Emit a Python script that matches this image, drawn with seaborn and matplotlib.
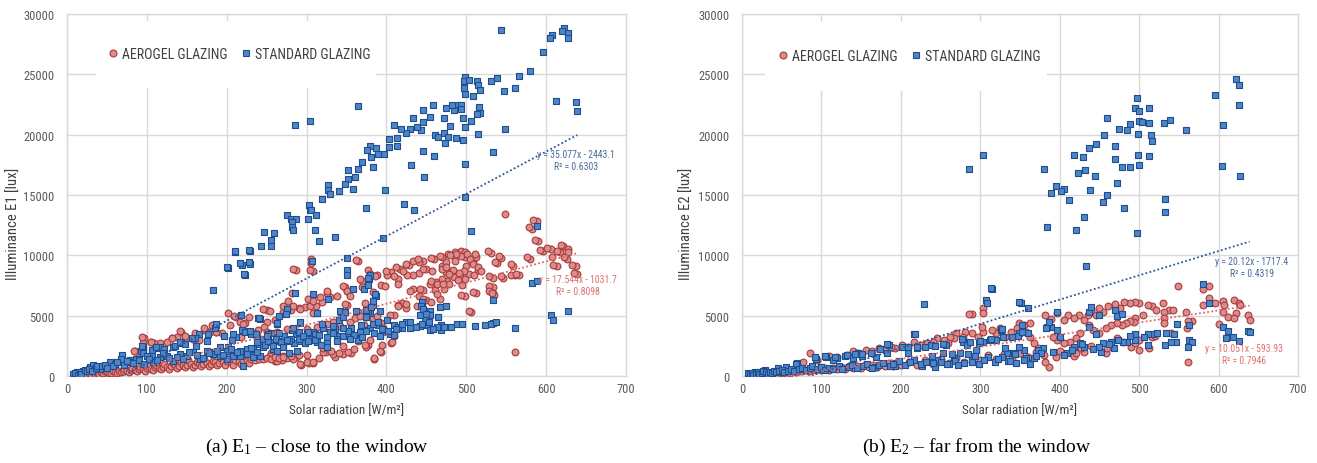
import numpy as np
import pandas as pd
import matplotlib
matplotlib.use("Agg")
import matplotlib.pyplot as plt
import seaborn as sns
from matplotlib.patches import Rectangle
from matplotlib.lines import Line2D

sns.set_theme(style="whitegrid")
plt.rcParams['font.family'] = ['Roboto Condensed', 'Roboto', 'DejaVu Sans']
plt.rcParams['mathtext.fontset'] = 'stix'

# ---------------- data: (solar radiation W/m2, illuminance lux) ----------------
aero_e1 = [
    (549,13450),(588,12850),(582,12210),(590,11190),(596,10370),(613,9100),(606,10560),(607,9870),(621,10750),
    (627,10560),(627,10280),(617,10280),(626,9730),(637,9130),(639,8440),(531,10200),(544,9820),(539,9370),
    (580,9730),(559,9130),(561,8350),(566,8350),(546,8160),(533,8160),(533,7390),(533,6890),(535,6700),(506,5320),
    (512,6840),(498,6620),(561,1950),(584,12960),(578,12310),(586,11300),(592,10440),(601,10580),(614,10330),
    (619,10860),(622,9830),(633,9220),(635,8540),(609,9200),(576,9830),(556,9280),(556,8400),(562,8450),(543,8250),
    (541,9970),(536,9470),(527,10330),(529,8250),(529,7470),(528,7070),(532,6840),(508,6920),(503,5410),(494,6710),
    (515,8810),(503,8450),(508,9410),(512,9830),(511,10110),(498,9830),(493,10330),(486,10250),(477,10110),
    (500,9140),(497,8720),(492,8310),(484,8230),(475,8590),(471,7620),(469,9140),(486,9560),(474,9470),(476,7890),
    (498,10280),(494,9930),(501,10140),(487,10140),(480,10010),(470,9870),(459,9730),(446,9510),(441,9460),
    (428,9180),(417,8900),(406,8630),(505,9730),(509,9320),(515,9040),(518,8710),(510,8350),(499,8080),(491,8550),
    (483,8820),(478,8440),(470,8080),(462,7800),(454,7660),(461,7110),(472,7250),(478,7660),(489,7940),(495,7530),
    (449,8900),(457,8710),(441,8550),(433,8350),(426,8350),(414,8080),(401,8350),(414,7660),(433,7250),(446,7110),
    (441,6620),(449,6290),(467,6340),(446,5320),(420,6010),(425,5600),(414,5870),(409,5040),(406,2700),(393,2010),
    (385,1380),(364,9540),(369,7890),(377,8770),(388,8350),(393,7530),(383,6980),(373,6010),(364,5320),(351,7060),
    (348,7390),(351,5870),(361,4770),(372,4220),(383,4770),(393,4410),(396,3940),(377,2560),(374,2430),(356,1870),
    (345,1820),(335,1600),(324,2010),(329,6560),(325,6890),(319,6150),(312,5790),(305,6010),(302,6420),(308,5180),
    (298,5730),(290,5600),(282,6840),(287,8770),(308,8710),(305,9370),(308,1050),(303,1100),(293,910),(287,1600),
    (276,1460),(269,1320),(260,1270),(255,1870),(276,5870),(281,5460),(271,5320),(260,4630),(250,4490),(250,5460),
    (247,4080),(239,3800),(234,3530),(223,4360),(218,3250),(212,4910),(204,4220),(202,5180),(194,3530),(186,3670),
    (181,4220),(173,3800),(165,2980),(160,3530),(149,3120),(143,3670),(138,3250),(132,3120),(125,2840),(117,2700),
    (109,2700),(105,2840),(96,3170),(95,2700),(85,2070),(90,1870),(237,1410),(254,1680),(263,1270),(271,1680),
    (283,1410),(292,990),(300,1180),(308,1130),(321,2010),(333,1820),(340,1870),(352,2010),(373,2570),(392,2100),
    (407,2840),(384,1460),(246,5550),(254,5410),(271,5830),(283,5830),(277,6240),(292,5550),(304,5830),(308,6240),
    (317,6510),(325,7070),(338,6600),(346,7480),(350,7070),(354,6650),(348,5960),(367,8040),(369,7340),(379,8450),
    (386,8310),(398,7480),(400,8720),(409,8310),(412,9000),(421,8720),(425,9280),(433,9560),(439,9700),(446,8870),
    (456,9820),(467,9970),(469,8870),(475,9000),(456,7890),(463,7620),(471,7620),(429,7070),(442,7210),(446,6380),
    (456,6100),(463,6790),(438,5830),(425,5960),(415,5830),(404,5050),(388,5000),(375,4850),(367,5000),(354,4440),
    (342,4170),(333,4440),(325,4310),(313,4030),(300,3890),(288,3610),(275,3890),(263,3610),(250,3610),(238,3340),
    (306,9700),(283,8870),(304,8810),(362,9610),(396,3610),(94,3260),(84,2100),(105,2840),(131,3170),(142,3700),
    (148,3340),(158,3070),(172,3950),(179,3610),(187,3670),(209,5000),(228,4890),(217,4440),(221,4310),(69,1410),
    (12,50),(15,120),(18,80),(22,150),(25,120),(28,230),(30,150),(33,300),(35,200),(38,280),(40,180),(43,350),
    (45,260),(48,400),(50,300),(52,220),(55,280),(58,450),(60,350),(62,250),(65,420),(68,330),(70,380),(72,550),
    (75,460),(78,320),(80,520),(82,650),(85,480),(88,380),(90,600),(92,750),(95,560),(98,430),(100,650),(102,850),
    (105,620),(108,480),(110,720),(112,900),(115,690),(118,550),(120,780),(122,1000),(125,740),(128,600),(130,820),
    (133,1100),(135,900),(138,680),(140,860),(143,1200),(145,950),(148,720),(150,880),(152,1300),(155,1000),
    (158,780),(160,940),(163,1150),(165,1050),(168,800),(170,980),(172,1400),(175,1100),(178,850),(180,1020),
    (183,1250),(185,1150),(188,900),(190,1080),(193,1500),(195,1200),(198,950),(200,1250),(203,1600),(205,1150),
    (208,900),(210,1300),(213,1700),(215,1220),(218,1000),(220,1350),(222,1800),(225,1280),(228,1050),(230,1400),
    (235,1320),(240,1450),(245,1380),(250,1500),(255,1420),(260,1550),(265,1480),(270,1600),(280,1650),(290,1700),
    (300,1750),(315,1500),(320,2300),(330,2100),(345,2500),(360,2200),(365,2900),(380,3000),(395,2600),(410,3300),
]

std_e1 = [
    (544,28670),(622,28840),(620,28560),(627,28450),(627,28010),(607,28230),(605,28010),(596,26820),(580,25300),
    (566,24900),(561,23870),(547,23600),(539,24700),(531,24480),(514,24480),(515,24150),(517,23710),(499,24760),
    (497,24430),(504,24540),(497,23870),(499,23380),(509,23240),(612,22830),(637,22690),(639,21920),(516,22330),
    (517,21780),(513,21730),(506,21170),(496,21390),(499,20620),(515,20070),(549,20480),(489,22500),(494,22500),
    (494,22110),(485,22080),(482,22500),(475,22170),(479,20680),(472,21370),(472,20130),(473,19300),(477,19800),
    (496,19520),(487,19740),(461,19960),(465,19800),(458,22500),(454,21500),(446,22060),(446,21010),(443,20350),
    (438,20620),(433,21390),(429,20510),(424,20130),(418,20480),(409,20840),(413,19740),(403,19660),(403,18970),
    (413,19050),(397,18360),(390,18360),(387,18910),(380,19020),(381,18140),(369,17730),(365,17180),(352,17040),
    (361,16490),(352,16320),(348,15940),(358,15490),(340,15300),(327,15860),(327,15380),(329,15110),(319,14700),
    (303,14200),(304,13790),(305,13730),(312,13320),(276,13320),(281,13040),(287,13040),(282,12770),(282,12350),
    (283,12080),(302,13040),(311,12080),(315,11190),(335,11520),(259,11880),(247,11940),(255,11250),(256,10780),
    (243,10780),(229,10340),(211,10280),(202,8960),(219,9240),(223,8350),(229,9320),(286,20760),(304,21120),
    (364,22390),(376,18690),(383,17310),(460,18200),(446,18610),(431,17480),(447,16490),(498,17590),(533,18560),
    (499,14830),(398,15380),(422,14230),(434,13730),(375,13950),(396,11470),(506,12020),(350,9820),(351,8770),
    (351,8380),(307,9540),(183,7110),(588,12460),(582,7720),(589,7860),(308,6780),(285,6840),(627,5400),(606,5070),
    (608,4630),(533,6290),(561,3940),(534,4410),(531,4300),(511,4160),(488,4300),(481,4080),(467,5730),(468,4220),
    (468,3800),(465,4850),(455,5400),(454,5040),(451,4220),(455,3800),(448,4630),(444,6150),(443,5790),(442,5040),
    (425,4440),(429,4000),(419,3940),(409,4220),(407,3450),(396,3800),(390,4220),(380,5180),(380,3940),(387,6620),
    (383,5870),(377,5380),(372,3800),(367,3530),(378,8000),(372,7170),(380,8410),(365,2980),(356,3940),(343,5270),
    (340,4630),(346,4910),(336,3860),(330,3530),(313,5180),(320,3940),(308,3670),(305,2980),(300,3530),(292,4410),
    (287,3450),(276,5460),(282,3800),(284,2700),(266,4960),(263,4270),(255,3530),(242,4690),(231,3450),(221,3720),
    (218,5040),(212,3250),(207,2980),(202,2430),(187,4220),(185,3940),(165,3450),(160,3120),(143,2700),(133,2430),
    (117,2430),(111,2290),(106,2150),(93,2100),(95,2430),(69,1600),(79,1320),(200,9060),(210,10330),(228,10440),
    (217,9340),(228,9420),(222,8450),(218,5050),(239,4780),(187,4310),(176,3480),(196,3340),(208,3480),(219,3840),
    (223,3670),(229,3750),(237,3480),(240,2650),(94,2510),(69,1740),(95,1900),(106,1680),(112,2370),(121,2240),
    (135,2510),(142,2790),(148,2650),(156,3120),(162,2510),(175,2930),(181,1960),(192,2370),(200,2100),(208,1820),
    (217,1680),(225,2240),(233,1960),(242,2790),(358,7250),(377,8090),(377,7510),(386,6790),(327,6380),(342,5410),
    (348,5330),(375,5500),(383,6240),(381,5680),(392,5410),(275,5550),(274,5140),(313,5220),(263,4360),(292,4440),
    (240,4780),(252,3480),(283,3940),(290,3610),(302,3670),(310,3480),(319,4310),(333,4170),(329,3610),(339,3280),
    (350,3340),(367,3610),(375,3750),(383,4310),(394,3890),(404,3480),(415,4030),(430,4440),(442,4170),(453,4440),
    (465,4850),(446,5550),(449,5140),(463,4030),(475,5830),(238,2790),(246,3070),(254,2790),(267,2930),(280,3070),
    (292,2930),(305,3070),(313,2790),(325,2930),(338,3070),(233,2240),(246,2370),(258,2240),(271,2510),(288,2100),
    (12,300),(20,440),(29,720),(33,910),(41,580),(54,1130),(60,990),(68,1410),(79,1130),(87,1410),(100,1680),
    (108,1130),(116,1550),(125,1680),(133,1270),(142,1820),(150,1680),(158,1960),(167,1410),(175,2100),(183,1820),
    (192,1680),(200,1410),(208,1680),(217,2100),(225,1820),(233,1550),(242,1680),(221,850),(8,150),(10,250),(14,100),
    (16,350),(18,200),(22,500),(25,380),(27,600),(31,450),(36,700),(38,850),(44,800),(47,950),(50,700),(57,850),
    (63,1200),(72,900),(75,1250),(83,1050),(90,1300),(97,1000),(103,1450),(113,1350),(120,1900),(128,1500),
    (138,1600),(145,1400),(153,2000),(163,1750),(170,1500),(178,1900),(188,2050),(195,1750),(205,2200),(213,2000),
    (230,2300),(238,2000),(248,2600),(252,2900),(258,2500),(262,3100),(268,2800),(272,3300),(278,2900),(290,3100),
    (295,3300),(298,2700),(310,3000),(316,3400),(325,3200),(333,3600),(345,3300),(352,3700),(360,3400),(370,3200),
    (385,3600),(392,3300),(402,3700),(412,3900),(420,4300),(437,4100),(445,4300),(458,3900),(472,4100),(495,4300),
    (523,4200),(537,4500),(250,3300),(265,3600),(275,3000),(302,2900),(318,2600),(325,2400),(338,2900),(345,4000),
    (355,3100),(362,5400),(368,4200),(374,4900),(390,4500),(401,4600),(410,3400),(263,2100),(270,2400),(278,1900),
]

aero_e2 = [
    (549,7500),(588,7470),(581,7200),(588,6480),(580,5870),(596,6010),(605,6200),(607,5870),(619,6290),(626,6070),
    (627,5870),(622,5240),(605,5320),(612,4910),(637,5050),(639,4630),(559,5320),(566,4580),(561,4580),(561,1130),
    (537,5510),(542,5460),(530,6010),(531,5320),(531,4770),(531,4410),(516,5790),(521,5510),(511,5870),(505,5050),
    (500,6070),(495,6150),(489,6010),(481,6150),(476,5600),(469,5960),(461,5790),(455,5320),(450,5600),(446,5050),
    (439,5460),(435,5050),(431,4630),(424,5050),(418,4770),(410,5050),(405,4630),(397,5180),(389,4690),(381,5050),
    (495,4770),(494,4490),(489,4580),(483,4410),(479,4220),(472,4360),(464,4220),(458,3940),(450,3530),(442,3800),
    (437,4220),(426,3530),(421,3120),(413,2840),(405,2700),(397,2980),(392,3250),(490,2430),(495,2700),(500,2150),
    (516,3250),(513,2290),(472,3120),(466,2430),(458,1870),(431,2010),(418,1650),(395,1540),(387,770),(381,1190),
    (373,2290),(368,2700),(363,3250),(357,3670),(349,4360),(346,3940),(355,4220),(363,4410),(339,3670),(331,3250),
    (325,3940),(320,3530),(315,3800),(304,3670),(302,4080),(297,3250),(289,3530),(281,3670),(278,3250),(270,3530),
    (267,3120),(262,3250),(259,2760),(254,2980),(246,3120),(241,2840),(233,2700),(225,2560),(217,2840),(209,2430),
    (201,2560),(193,2290),(188,2430),(180,2150),(172,2290),(164,2100),(156,2150),(146,1870),(140,2100),(132,1740),
    (119,1600),(109,1650),(95,1320),(85,1870),(77,1190),(289,5130),(304,5600),(304,5180),(286,5160),(427,2290),
    (12,60),(16,100),(20,80),(24,150),(28,120),(32,200),(36,160),(40,250),(44,200),(48,300),(52,250),(56,350),
    (60,280),(64,420),(68,330),(72,450),(76,380),(80,500),(84,420),(88,550),(92,460),(96,600),(100,500),(105,650),
    (110,520),(115,700),(120,560),(125,750),(130,600),(135,800),(140,640),(145,850),(150,680),(155,900),(160,720),
    (165,950),(170,760),(175,1000),(180,800),(185,1050),(190,850),(195,1100),(200,900),(210,1200),(220,950),
    (230,1300),(240,1000),(250,1400),(260,1100),(270,1500),(280,1200),(290,1600),(300,1300),(310,1700),(320,1400),
    (330,1800),(340,1500),(350,1900),(360,1600),(370,2000),(380,1700),(400,2100),(420,1900),(440,2500),(460,2300),
    (480,2800),(500,3000),(520,3300),(540,3600),(560,4000),(600,4300),(620,4800),
]

std_e2 = [
    (622,24620),(626,24120),(626,22470),(596,23300),(605,20820),(604,17370),(627,16570),(559,20400),(539,21230),
    (531,20950),(512,22170),(513,20950),(515,19990),(516,19440),(512,18200),(532,14640),(532,13590),(497,23050),
    (495,22220),(500,21950),(500,21170),(504,21090),(489,20900),(485,20350),(475,20480),(499,20070),(499,18280),
    (500,17450),(489,17310),(478,17310),(470,19050),(470,17950),(472,15960),(481,13900),(497,11880),(459,21390),
    (456,19990),(446,19240),(437,18910),(429,18140),(418,18330),(432,17090),(423,16840),(445,16570),(459,14970),
    (455,14420),(438,15380),(405,15460),(402,15330),(395,15770),(389,15190),(412,14550),(380,17170),(384,12350),
    (420,12130),(431,13180),(433,9120),(286,17170),(303,18330),(229,5960),(307,6290),(308,6010),(315,7170),
    (351,6070),(360,5600),(580,7610),(588,6070),(606,4030),(612,3750),(609,3120),(618,3200),(626,2920),(637,3750),
    (639,3670),(563,4220),(563,2980),(566,2780),(562,2370),(548,4300),(544,3450),(546,2840),(534,3530),(533,2560),
    (517,3470),(511,3450),(511,2560),(495,3450),(495,2980),(485,2840),(480,2840),(474,2980),(468,2290),(464,2840),
    (455,2700),(452,2010),(449,2430),(446,3470),(437,5320),(439,5680),(469,5460),(472,4960),(479,5130),(449,5050),
    (437,4080),(431,2430),(425,2700),(418,2430),(409,1870),(405,1740),(400,3250),(397,3800),(389,4080),(384,4080),
    (387,4490),(383,3940),(396,5320),(379,2290),(373,2150),(376,1870),(368,1460),(357,1460),(355,2150),(349,2430),
    (349,3530),(352,4220),(360,3530),(342,1870),(334,1870),(331,2290),(326,3800),(328,3200),(320,2980),(312,2980),
    (304,2840),(299,2700),(294,2150),(289,1600),(278,2840),(283,2560),(275,1870),(267,1460),(257,2560),(253,1870),
    (246,1320),(238,2560),(230,2430),(220,2290),(217,3450),(217,1320),(209,1870),(201,2430),(193,1050),(185,2560),
    (183,1870),(169,1600),(162,1870),(151,1650),(146,1870),(140,1460),(130,1650),(119,1460),(114,1320),(106,1540),
    (93,1430),(69,1050),(56,770),(45,630),(29,500),(16,360),(8,220),(313,7270),(349,6160),(218,3480),(183,2650),
    (174,2240),(151,1820),(142,1820),(132,1740),(117,1550),(104,1630),(92,1550),(68,990),(209,2370),(220,2370),
    (243,2510),(253,2650),(239,1680),(264,1820),(277,3070),(287,2790),(300,2930),(314,3070),(327,3890),(340,3200),
    (348,3340),(352,3610),(285,1820),(293,1680),(310,1550),(327,1550),(344,1820),(335,1270),(226,850),(243,720),
    (260,990),(193,850),(167,720),(10,150),(12,250),(14,100),(18,200),(20,300),(22,180),(25,250),(27,400),(30,300),
    (33,200),(35,350),(38,250),(40,450),(43,300),(47,400),(50,500),(53,350),(58,450),(62,600),(65,400),(72,550),
    (75,700),(80,500),(85,650),(88,800),(95,600),(100,750),(104,500),(110,700),(115,550),(122,800),(126,600),
    (135,750),(138,900),(145,650),(152,800),(158,1000),(164,700),(172,900),(178,1100),(186,800),(190,1000),
    (198,1250),(205,950),(212,1150),(225,1000),(232,1200),(240,1050),(250,1150),(258,1000),(268,1250),(272,950),
    (280,1100),(290,1200),(298,1000),(305,1300),(318,1150),(322,1400),(338,1250),(345,1100),(355,1300),(362,1000),
    (370,1650),(392,1950),(415,2150),(428,2650),(442,2200),(462,2650),(488,3300),(506,3200),(522,3600),(540,2800),
]

# Excel linear trendlines (slope, intercept) and their labels
fit_aero_e1 = (17.544, -1031.7)
fit_std_e1 = (35.077, -2443.1)
fit_aero_e2 = (10.051, -593.93)
fit_std_e2 = (20.12, -1717.4)
label_aero_e1 = ["y = 17.544x - 1031.7", "R² = 0.8098"]
label_std_e1 = ["y = 35.077x - 2443.1", "R² = 0.6303"]
label_aero_e2 = ["y = 10.051x - 593.93", "R² = 0.7946"]
label_std_e2 = ["y = 20.12x - 1717.4", "R² = 0.4319"]
series_names = ["AEROGEL GLAZING", "STANDARD GLAZING"]
x_ticks = [0, 100, 200, 300, 400, 500, 600, 700]
y_ticks = [0, 5000, 10000, 15000, 20000, 25000, 30000]

# ---------------- styles ----------------
RED_FACE, RED_EDGE, RED_LINE, RED_TXT = "#dd8c8c", "#a83a3a", "#e06666", "#e07070"
BLUE_FACE, BLUE_EDGE, BLUE_LINE, BLUE_TXT = "#4f86c9", "#1f4e8c", "#2e5597", "#4a6c9b"
GRID = "#d9d9d9"
TXT = "#404040"

fig = plt.figure(figsize=(13.17, 4.64), dpi=100)
ax1 = fig.add_axes([67/1317, 87/464, 559/1317, 362/464])
ax2 = fig.add_axes([742/1317, 87/464, 556/1317, 362/464])


def panel(ax, aero, std, fa, fs, la, ls, ylabel, ylab_x, legend_box, legend_anchor, pos_s, pos_a):
    da = pd.DataFrame(aero, columns=["x", "y"])
    ds = pd.DataFrame(std, columns=["x", "y"])
    sns.scatterplot(data=da, x="x", y="y", ax=ax, marker="o", s=24, color=RED_FACE,
                    edgecolor=RED_EDGE, linewidth=0.8, zorder=3, legend=False)
    sns.scatterplot(data=ds, x="x", y="y", ax=ax, marker="s", s=20, color=BLUE_FACE,
                    edgecolor=BLUE_EDGE, linewidth=0.8, zorder=4, legend=False)
    for d, f, c in ((da, fa, RED_LINE), (ds, fs, BLUE_LINE)):
        xs = np.linspace(d["x"].min(), d["x"].max(), 50)
        ax.plot(xs, f[0] * xs + f[1], ls=(0, (1, 1.3)), lw=1.3, color=c, zorder=5)
    ax.set_xlim(0, 700)
    ax.set_ylim(0, 30000)
    ax.set_xticks(x_ticks)
    ax.set_yticks(y_ticks)
    ax.set_axisbelow(True)
    ax.grid(True, color=GRID, lw=1.0)
    for sp in ax.spines.values():
        sp.set_visible(True)
        sp.set_color(GRID)
        sp.set_linewidth(1.0)
    ax.tick_params(length=0, labelsize=9, colors="#595959")
    ax.tick_params(axis="y", pad=9)
    ax.tick_params(axis="x", pad=4)
    ax.set_xlabel("Solar radiation [W/m²]", fontsize=9.5, color=TXT, labelpad=6)
    ax.set_ylabel(ylabel, fontsize=10.5, color=TXT)
    ax.yaxis.set_label_coords(ylab_x, 0.423)
    ax.set_facecolor("white")
    ax.add_patch(Rectangle((legend_box[0], legend_box[1]), legend_box[2], legend_box[3],
                           transform=ax.transAxes, facecolor="white", edgecolor="none", zorder=1))
    handles = [Line2D([], [], ls="none", marker="o", ms=5, mfc=RED_FACE, mec=RED_EDGE, mew=0.8),
               Line2D([], [], ls="none", marker="s", ms=4.5, mfc=BLUE_FACE, mec=BLUE_EDGE, mew=0.8)]
    ax.legend(handles, series_names, loc="center left", bbox_to_anchor=legend_anchor, ncol=2,
              frameon=False, fontsize=10, handlelength=0.6, handletextpad=0.35, columnspacing=1.0,
              borderaxespad=0, borderpad=0, labelcolor=TXT)
    ax.text(pos_s[0], pos_s[1], ls[0], transform=ax.transAxes, ha="center", va="center",
            fontsize=7, color=BLUE_TXT, zorder=6)
    ax.text(pos_s[0], pos_s[1] - 0.033, ls[1], transform=ax.transAxes, ha="center", va="center",
            fontsize=7, color=BLUE_TXT, zorder=6)
    ax.text(pos_a[0], pos_a[1], la[0], transform=ax.transAxes, ha="center", va="center",
            fontsize=7, color=RED_TXT, zorder=6)
    ax.text(pos_a[0], pos_a[1] - 0.033, la[1], transform=ax.transAxes, ha="center", va="center",
            fontsize=7, color=RED_TXT, zorder=6)


panel(ax1, aero_e1, std_e1, fit_aero_e1, fit_std_e1, label_aero_e1, label_std_e1,
      "Illuminance E1 [lux]", -0.082, (0.052, 0.796, 0.50, 0.185), (0.075, 0.889),
      (0.911, 0.613), (0.914, 0.268))
panel(ax2, aero_e2, std_e2, fit_aero_e2, fit_std_e2, label_aero_e2, label_std_e2,
      "Illuminance E2 [lux]", -0.086, (0.041, 0.788, 0.507, 0.19), (0.066, 0.884),
      (0.917, 0.318), (0.903, 0.077))

fig.text(317/1317, 1 - 447/464, r"(a) $\mathregular{E_1}$ – close to the window", ha="center", va="center",
         fontsize=14, family="Liberation Serif", color="black")
fig.text(977/1317, 1 - 447/464, r"(b) $\mathregular{E_2}$ – far from the window", ha="center", va="center",
         fontsize=14, family="Liberation Serif", color="black")

fig.savefig("out.png", dpi=100, facecolor="white")
